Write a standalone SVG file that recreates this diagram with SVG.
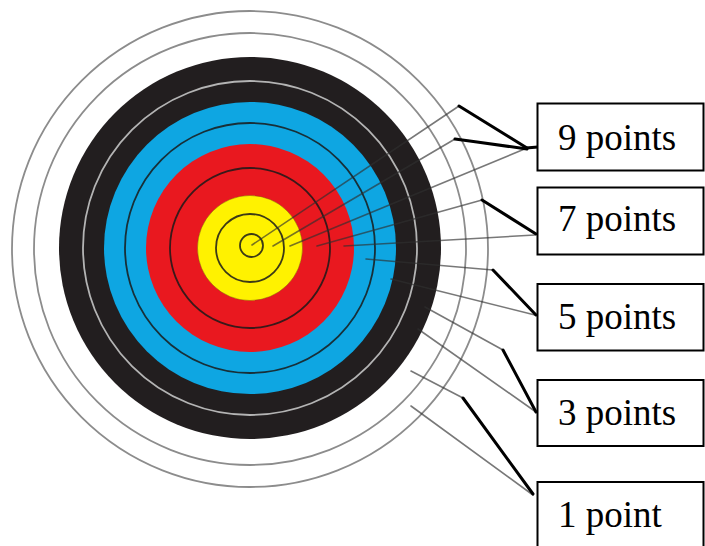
<svg xmlns="http://www.w3.org/2000/svg" width="705" height="546" viewBox="0 0 705 546">
<style>
.outer{fill:none;stroke:#8c8c8c;stroke-width:1.8}
.inner{fill:none;stroke:#1a1a1a;stroke-opacity:0.85;stroke-width:1.8}
.ray{stroke:#303030;stroke-opacity:0.65;stroke-width:1.6;fill:none;stroke-linecap:round}
.lead{stroke:#000;stroke-width:3;fill:none;stroke-linecap:round;stroke-linejoin:round}
.box{fill:#fff;stroke:#000;stroke-width:2}
.lbl{font-family:"Liberation Serif","Times New Roman",serif;font-size:37px;fill:#000}
</style>
<rect width="705" height="546" fill="#fff"/>
<g id="target">
  <circle class="outer" cx="250" cy="249" r="238"/>
  <circle class="outer" cx="250" cy="249" r="216"/>
  <circle cx="250" cy="248" r="191" fill="#221e1f"/>
  <circle cx="250" cy="248" r="167" fill="none" stroke="#b4b4b4" stroke-width="1.8"/>
  <circle cx="250" cy="248" r="146" fill="#0ea6e2"/>
  <circle class="inner" cx="250" cy="248" r="125"/>
  <circle cx="250" cy="248" r="104" fill="#e9181f"/>
  <circle class="inner" cx="250" cy="248" r="80"/>
  <circle cx="250" cy="248" r="52.5" fill="#fff200" stroke="#6a5a10" stroke-opacity="0.4" stroke-width="1"/>
  <circle class="inner" cx="250" cy="248" r="34"/>
  <circle class="inner" cx="251.5" cy="245.5" r="11.5"/>
</g>
<g id="connectors">
  <line class="ray" x1="252" y1="245" x2="459" y2="106"/>
  <line class="ray" x1="273" y1="246" x2="455" y2="139"/>
  <line class="ray" x1="290" y1="246" x2="527" y2="148"/>
  <line class="ray" x1="317" y1="246" x2="482" y2="200"/>
  <line class="ray" x1="344" y1="246" x2="535" y2="235"/>
  <line class="ray" x1="366" y1="259" x2="493" y2="270"/>
  <line class="ray" x1="391" y1="279" x2="535" y2="315"/>
  <line class="ray" x1="425" y1="307" x2="503" y2="350"/>
  <line class="ray" x1="418" y1="329" x2="536" y2="412"/>
  <line class="ray" x1="411" y1="371" x2="463" y2="398"/>
  <line class="ray" x1="411" y1="406" x2="533" y2="495"/>
  <line class="lead" x1="459" y1="106" x2="527" y2="148"/>
  <polyline class="lead" points="455,139 477,142 527,149"/>
  <line class="lead" x1="526" y1="148" x2="538" y2="147"/>
  <line class="lead" x1="482" y1="200" x2="536" y2="234"/>
  <line class="lead" x1="493" y1="270" x2="536" y2="315"/>
  <line class="lead" x1="503" y1="350" x2="536" y2="412"/>
  <line class="lead" x1="463" y1="398" x2="533" y2="494"/>
</g>
<g id="label-9">
  <rect class="box" x="537.5" y="103.5" width="166" height="67"/>
  <text class="lbl" x="558" y="149.5">9 points</text>
</g>
<g id="label-7">
  <rect class="box" x="537.5" y="187.5" width="166" height="67"/>
  <text class="lbl" x="558" y="231">7 points</text>
</g>
<g id="label-5">
  <rect class="box" x="537.5" y="284" width="166" height="66.5"/>
  <text class="lbl" x="558" y="328.5">5 points</text>
</g>
<g id="label-3">
  <rect class="box" x="537.5" y="380" width="166" height="66"/>
  <text class="lbl" x="558" y="425">3 points</text>
</g>
<g id="label-1">
  <rect class="box" x="537.5" y="482" width="166" height="68"/>
  <text class="lbl" x="558" y="526.5">1 point</text>
</g>
</svg>
